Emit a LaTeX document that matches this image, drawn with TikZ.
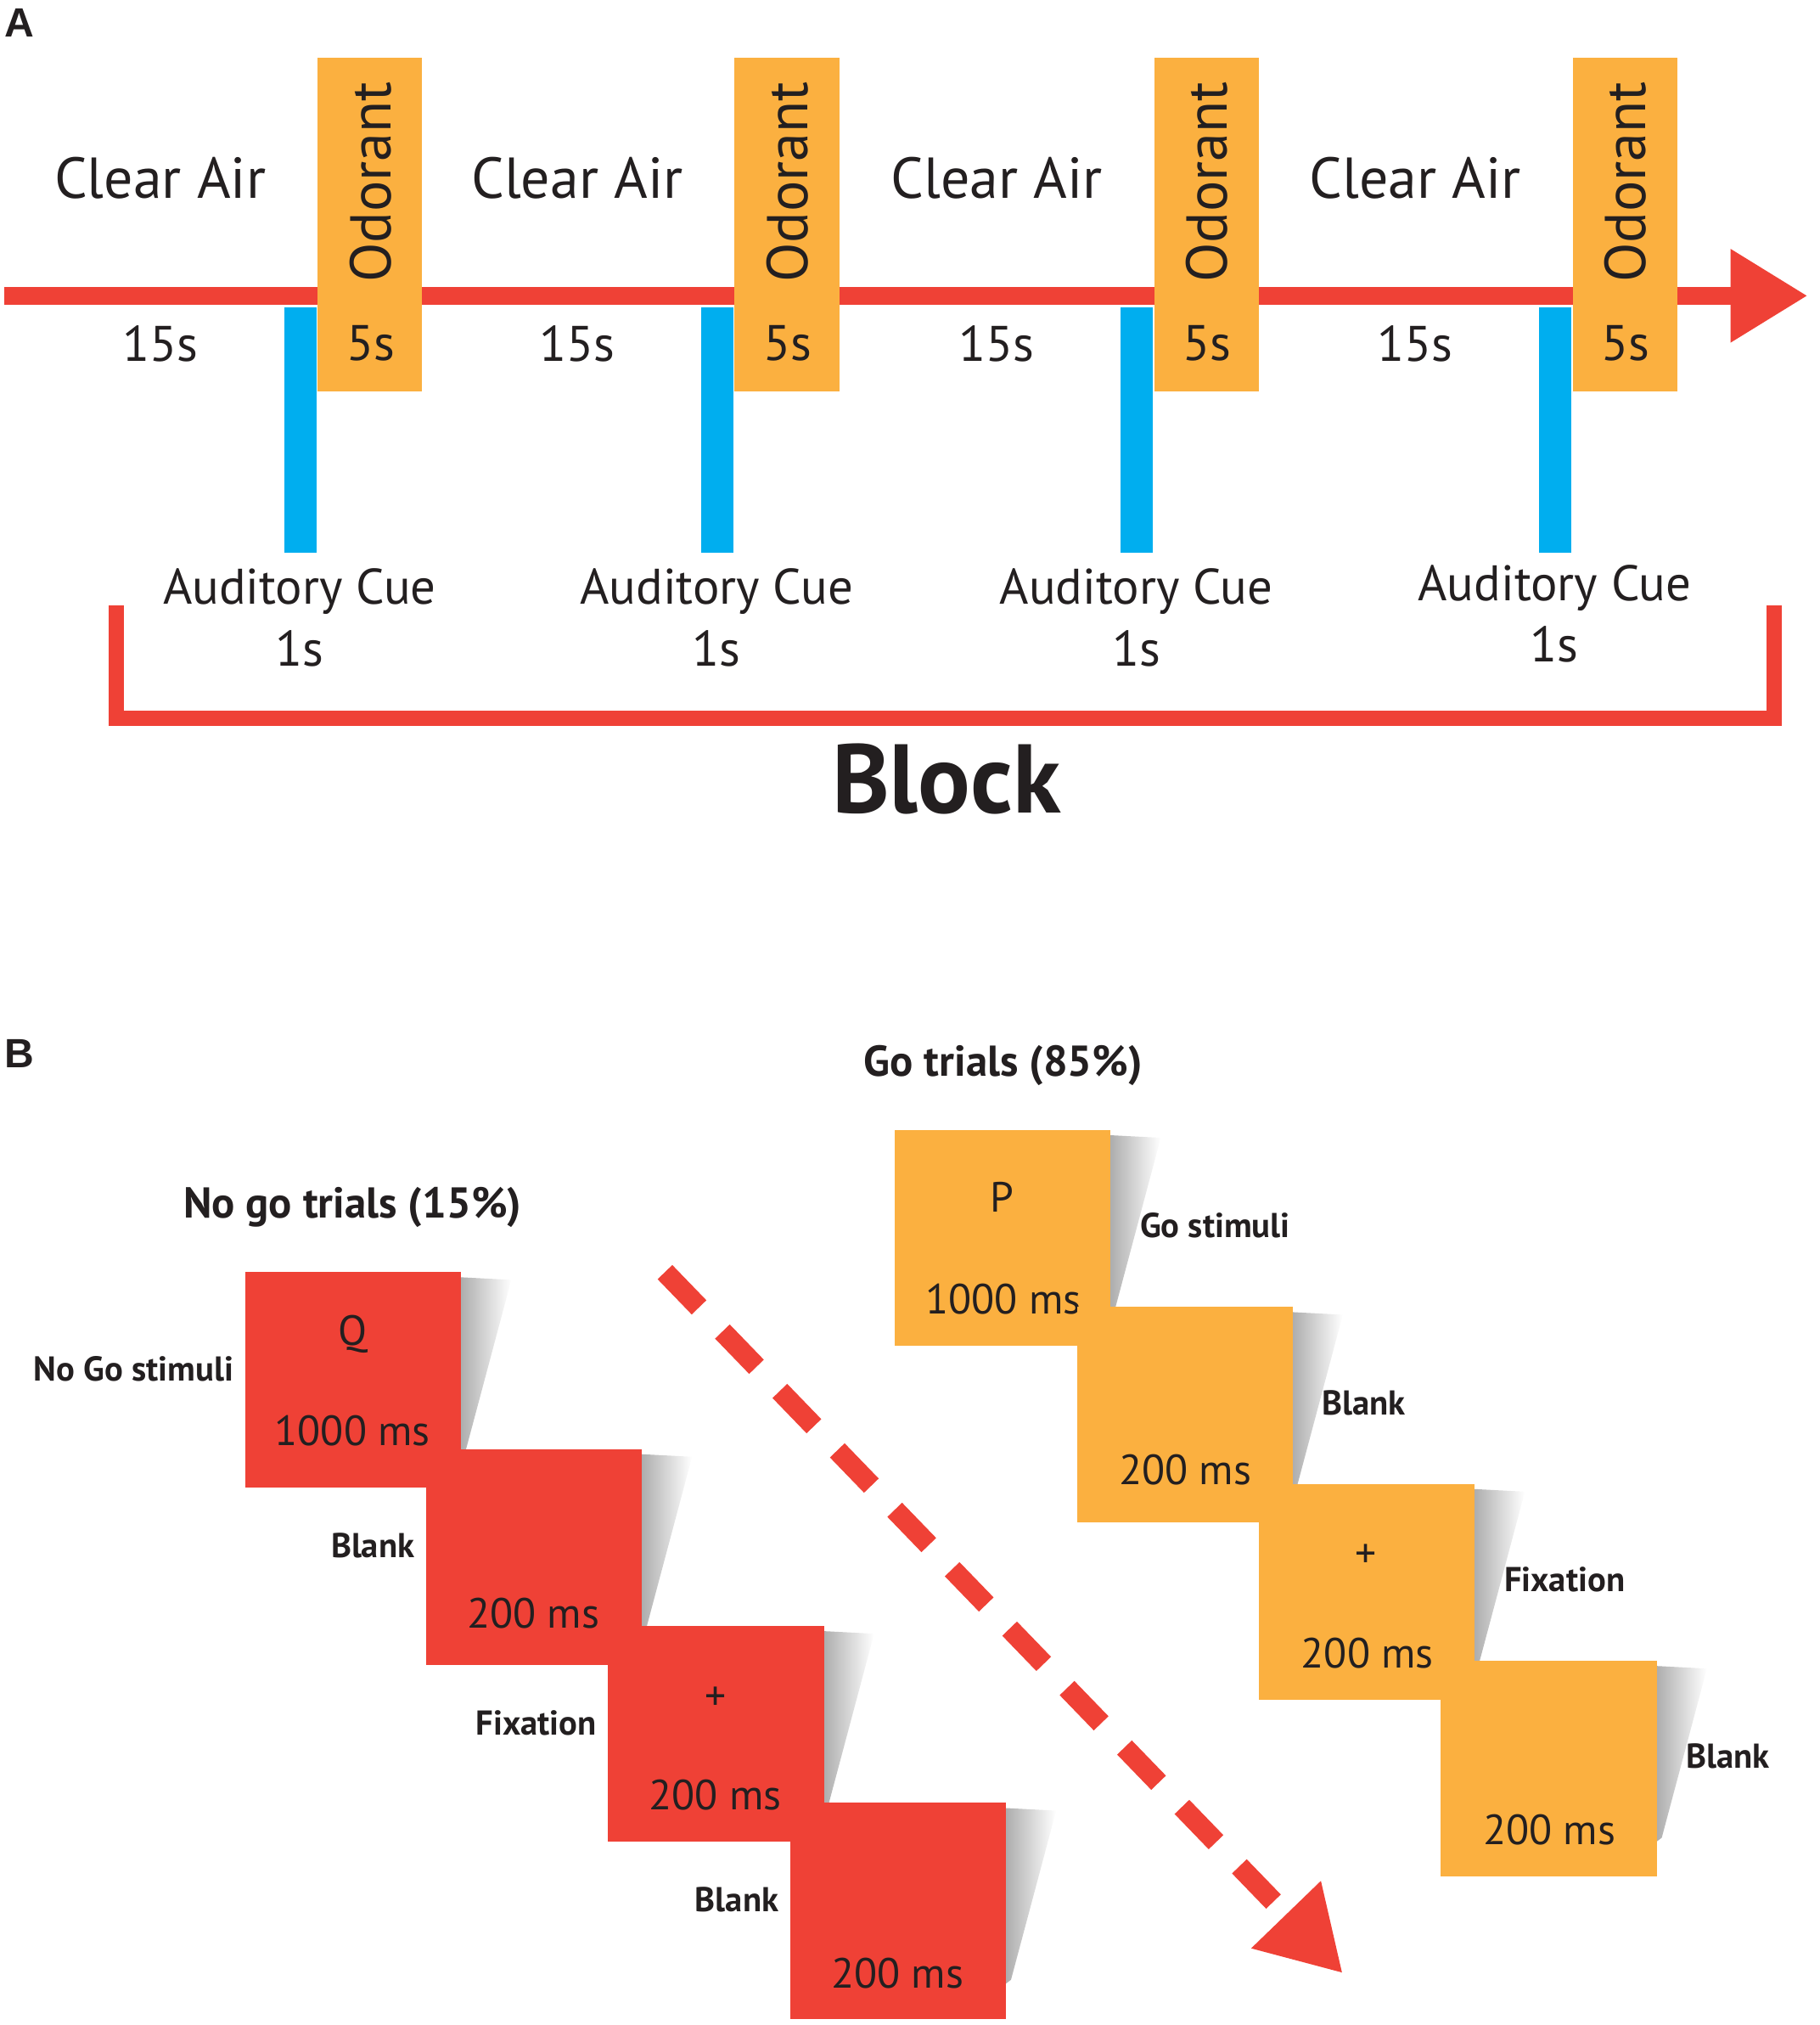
\documentclass[tikz,border=0pt]{standalone}
\usepackage{fontspec}
\setmainfont{PT Sans}
\newfontfamily\panelfont{Liberation Sans}
\usetikzlibrary{arrows.meta}
\definecolor{timered}{HTML}{EF4136}
\definecolor{odororange}{HTML}{FBB040}
\definecolor{cueblue}{HTML}{00AEEF}
\definecolor{inkgray}{HTML}{231F20}
\tikzset{
    x=0.01cm, y=-0.01cm, % one unit is one pixel of the figure, y runs downwards
    every node/.style={text=inkgray, inner sep=0pt, outer sep=0pt},
    odorbox/.style={fill=odororange, minimum width=0.81cm, minimum height=2.58cm, anchor=north west},
    cuebar/.style={fill=cueblue, minimum width=0.25cm, minimum height=1.90cm, anchor=north west},
    bigtext/.style={font=\fontsize{12.7}{15}\selectfont},
    smalltext/.style={font=\fontsize{11}{13}\selectfont},
    timeline/.style={timered, line width=4pt, -{Triangle[length=17pt, width=19.5pt]}},
    bracket/.style={timered, line width=3.4pt},
    nogobox/.style={fill=timered, minimum size=1.67cm, anchor=north west},
    gobox/.style={fill=odororange, minimum size=1.67cm, anchor=north west},
    boxtext/.style={font=\fontsize{9.3}{11}\selectfont},
    sidetext/.style={font=\bfseries\fontsize{7.6}{9}\selectfont},
    headtext/.style={font=\bfseries\fontsize{9.5}{11}\selectfont},
    panel/.style={font=\panelfont\bfseries\fontsize{9}{11}\selectfont},
    boxshadow/.style={left color=black!32, right color=white},
    timearrow/.style={timered, line width=4.5pt, dash pattern=on 10.8pt off 7.4pt, -{Triangle[length=18pt, width=20pt]}},
}
\begin{document}
\begin{tikzpicture}
\useasboundingbox (0,0) rectangle (1409,1568);

% panel A: timeline of one block
\node[panel] (panA) at (15,18) {A};
\coordinate (lineS) at (3,229);
\coordinate (lineE) at (1400,229);
\draw[timeline] (lineS) -- (lineE);
\foreach \i/\dx/\cy in {1/0/456, 2/323/456, 3/648/456, 4/972/453} {
    \node[odorbox] (odor\i) at (246+\dx,45) {};
    \node[cuebar] (cue\i) at (220+\dx,238) {};
    \node[bigtext] (air\i) at (124+\dx,138) {Clear Air};
    \node[bigtext, rotate=90] (odorlab\i) at (287+\dx,141) {Odorant};
    \node[smalltext] (airtime\i) at (124+\dx,266) {15s};
    \node[smalltext] (odortime\i) at (287+\dx,266) {5s};
    \node[smalltext] (cuelab\i) at (232+\dx,\cy+2) {Auditory Cue};
    \node[smalltext] (cuetime\i) at (232+\dx,\cy+46) {1s};
}
\coordinate (brL) at (90,469);
\coordinate (brR) at (1374,469);
\draw[bracket] (brL) -- ++(0,87) -| (brR);
\node[font=\bfseries\fontsize{21.5}{24}\selectfont] (block) at (733,603) {Block};

% panel B: go / no go trials
\node[panel] (panB) at (15,816) {B};
\node[headtext] (gohead) at (777,825) {Go trials (85\%)};
\node[headtext] (nogohead) at (273,935) {No go trials (15\%)};

\foreach \i/\xx/\yy/\sym/\sy/\dur/\dy/\side in {1/190/985/Q/48/1000 ms/123/No Go stimuli, 2/330/1122//50/200 ms/127/Blank, 3/471/1259/+/56/200 ms/131/Fixation, 4/612/1396//50/200 ms/132/Blank} {
    \shade[boxshadow] (\xx+167,\yy+4) -- (\xx+206,\yy+6) -- (\xx+171,\yy+137) -- (\xx+167,\yy+140) -- cycle;
    \node[nogobox] (nogo\i) at (\xx,\yy) {};
    \node[boxtext] (nogosym\i) at (\xx+83,\yy+\sy) {\sym};
    \node[boxtext] (nogodur\i) at (\xx+83,\yy+\dy) {\dur};
    \node[sidetext, anchor=east] (nogoside\i) at (\xx-9,\yy+75) {\side};
}

\foreach \i/\xx/\yy/\sym/\sy/\dur/\dy/\side in {1/693/875/P/52/1000 ms/131/Go stimuli, 2/834/1012//52/200 ms/126/Blank, 3/975/1149/+/56/200 ms/131/Fixation, 4/1116/1286//52/200 ms/131/Blank} {
    \shade[boxshadow] (\xx+167,\yy+4) -- (\xx+206,\yy+6) -- (\xx+171,\yy+137) -- (\xx+167,\yy+140) -- cycle;
    \node[gobox] (go\i) at (\xx,\yy) {};
    \node[boxtext] (gosym\i) at (\xx+83,\yy+\sy) {\sym};
    \node[boxtext] (godur\i) at (\xx+84,\yy+\dy) {\dur};
    \node[sidetext, anchor=west] (goside\i) at (\xx+190,\yy+74) {\side};
}

\coordinate (flowS) at (515,985);
\coordinate (flowE) at (1040,1528);
\draw[timearrow] (flowS) -- (flowE);
\end{tikzpicture}
\end{document}
